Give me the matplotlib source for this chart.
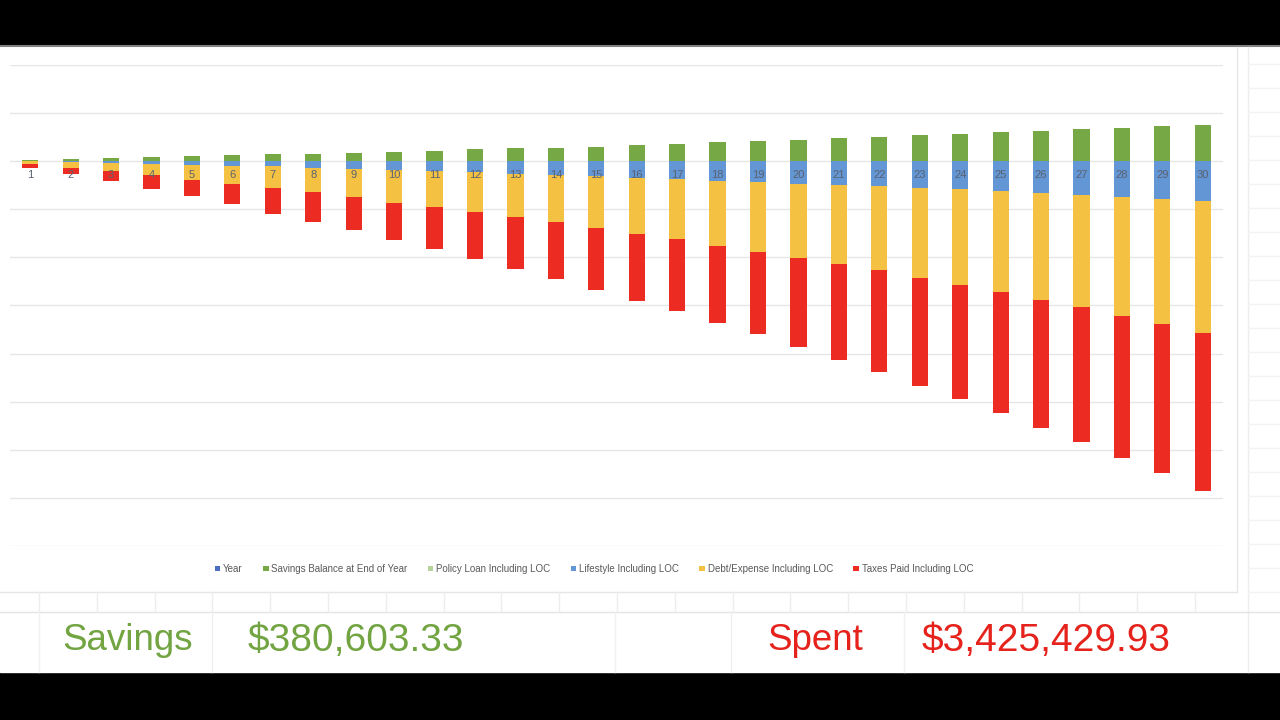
import matplotlib.pyplot as plt
import numpy as np

# values, in thousands of dollars (cumulative per year)
years = list(range(1, 31))
savings = [17, 24, 35, 45, 52, 62, 73, 80, 90, 97,
           107, 125, 135, 142, 152, 170, 180, 197, 208, 218,
           243, 256, 270, 284, 301, 312, 333, 350, 367, 380.6]
policy_loan = [0] * 30
lifestyle = [3, 7, 21, 28, 42, 48, 55, 66, 76, 87,
             107, 114, 128, 142, 149, 173, 187, 201, 218, 232,
             243, 256, 274, 294, 312, 329, 350, 367, 388, 409]
debt = [28, 62, 83, 118, 152, 191, 222, 256, 294, 343,
        367, 416, 450, 492, 544, 586, 624, 679, 728, 776,
        828, 873, 936, 994, 1050, 1116, 1168, 1237, 1306, 1372]
taxes = [35, 62, 104, 145, 170, 208, 267, 305, 350, 385,
         437, 485, 540, 589, 641, 690, 748, 797, 849, 922,
         991, 1060, 1123, 1182, 1258, 1324, 1400, 1483, 1552, 1644]

legend_labels = ["Year", "Savings Balance at End of Year", "Policy Loan Including LOC",
                 "Lifestyle Including LOC", "Debt/Expense Including LOC", "Taxes Paid Including LOC"]
colors = ["#4A6FC0", "#76A845", "#B5D39A", "#6396D4", "#F4C142", "#EC2B22"]

total_savings = "$380,603.33"
total_spent = "$3,425,429.93"

plt.rcParams['font.family'] = ['Liberation Sans Narrow', 'Liberation Sans', 'DejaVu Sans']

W, H = 1280, 720
fig = plt.figure(figsize=(12.8, 7.2), dpi=100, facecolor="black")

# background: screen capture of the spreadsheet (pixel coordinates)
bg = fig.add_axes([0, 0, 1, 1], zorder=0)
bg.set_xlim(0, W)
bg.set_ylim(H, 0)
bg.axis("off")
bg.add_patch(plt.Rectangle((0, 46), W, 626, color="white"))
bg.plot([0, W], [46, 46], color="#808080", lw=1.5)
# chart frame and cell lines
bg.plot([1237, 1237], [47, 592], color="#E6E6E6", lw=1)
bg.plot([1248, 1248], [47, 672], color="#EDEDED", lw=1)
bg.plot([0, 1237], [592, 592], color="#E6E6E6", lw=1)
bg.plot([0, W], [612, 612], color="#E4E4E4", lw=1)
for cx in np.arange(39, 1240, 57.8):
    bg.plot([cx, cx], [592, 612], color="#EDEDED", lw=1)
for cx in [39, 212, 615, 731, 904]:
    bg.plot([cx, cx], [612, 672], color="#F0F0F0", lw=1)
for cy in np.arange(64, 600, 24):
    bg.plot([1248, W], [cy, cy], color="#F2F2F2", lw=1)

bg.text(62, 641, "Savings", color="#72A442", fontsize=26.5, ha="left", va="center")
bg.text(248, 641, total_savings, color="#72A442", fontsize=28, ha="left", va="center")
bg.text(767, 641, "Spent", color="#E5231C", fontsize=26.5, ha="left", va="center")
bg.text(922, 641, total_spent, color="#E5231C", fontsize=28, ha="left", va="center")

# main chart
ax = fig.add_axes([10 / W, 1 - 546 / H, 1213 / W, 481 / H], zorder=1)
ax.patch.set_alpha(0)
x = np.array(years)
wd = 0.4
ls = np.array(lifestyle)
db = np.array(debt)
ax.bar(x, [0] * 30, wd, color=colors[0], label=legend_labels[0])
ax.bar(x, savings, wd, color=colors[1], label=legend_labels[1])
ax.bar(x, policy_loan, wd, color=colors[2], label=legend_labels[2])
ax.bar(x, -ls, wd, color=colors[3], label=legend_labels[3])
ax.bar(x, -db, wd, bottom=-ls, color=colors[4], label=legend_labels[4])
ax.bar(x, -np.array(taxes), wd, bottom=-(ls + db), color=colors[5], label=legend_labels[5])

for yr in years:
    ax.text(yr, -140, str(yr), ha="center", va="center", fontsize=8, color="#5A6270")

ax.set_xlim(0.5, 30.5)
ax.set_ylim(-4000, 1000)
ax.set_yticks(np.arange(-4000, 1001, 500))
ax.grid(axis="y", color="#E6E6E6", lw=1)
ax.set_axisbelow(True)
ax.tick_params(left=False, bottom=False, labelleft=False, labelbottom=False)
for s in ax.spines.values():
    s.set_visible(False)

fig.legend(loc="center", bbox_to_anchor=(594 / W, 1 - 569 / H), ncol=6, frameon=False,
           fontsize=7, handlelength=0.55, handleheight=0.55, handletextpad=0.3,
           columnspacing=2.1, labelcolor="#595959")

fig.savefig("out.png", dpi=100, facecolor="black")
